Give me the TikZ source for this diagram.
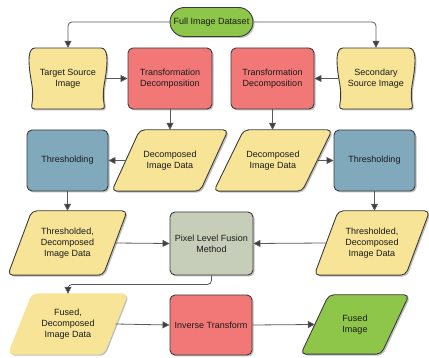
\documentclass[tikz,border=0pt]{standalone}
\usepackage{fontspec}
\setmainfont{Liberation Sans}
\usetikzlibrary{arrows.meta,shadows,backgrounds}
\definecolor{cyel}{HTML}{F7E496}
\definecolor{cred}{HTML}{F27878}
\definecolor{cblue}{HTML}{80A9BB}
\definecolor{cgray}{HTML}{C6CEB9}
\definecolor{cgreen}{HTML}{8DC648}
\definecolor{cedge}{HTML}{3C3C3C}
\definecolor{cline}{HTML}{5A5A5A}
\definecolor{ctext}{HTML}{1A1A1A}
\begin{document}
\begin{tikzpicture}[x=1pt,y=-1pt,
  lbl/.style={align=center,font=\fontsize{9}{11}\selectfont,text=ctext},
  shad/.style={drop shadow={shadow xshift=1.5pt,shadow yshift=-1.5pt,opacity=0.25,fill=black}},
  box/.style={lbl,draw=cedge,line width=0.9pt,rounded corners=5pt,inner sep=2pt,shad},
  ghost/.style={lbl,inner sep=0pt},
  shp/.style={draw=cedge,line width=0.9pt,rounded corners=5pt,shad},
  arr/.style={draw=cline,line width=0.8pt,rounded corners=4pt,-{Triangle[length=7pt,width=7pt,fill=cedge]}}
]
\useasboundingbox (0,0) rectangle (429,358);
% nodes
\node[box,fill=cgreen,rounded corners=14.5pt,minimum width=83pt,minimum height=29pt] (full) at (211.5,22) {Full Image Dataset};
\node[ghost,minimum width=74pt,minimum height=61pt] (tsrc) at (68,78.5) {Target Source\\Image};
\node[box,fill=cred,minimum width=84pt,minimum height=61pt] (tr1) at (170,78.5) {Transformation\\Decomposition};
\node[box,fill=cred,minimum width=83pt,minimum height=61pt] (tr2) at (272.5,78.5) {Transformation\\Decomposition};
\node[ghost,minimum width=74pt,minimum height=61pt] (ssrc) at (376,78.5) {Secondary\\Source Image};
\node[box,fill=cblue,minimum width=81pt,minimum height=61pt] (th1) at (67.5,160.5) {Thresholding};
\node[ghost,minimum width=88pt,minimum height=61pt] (dec1) at (170,160.5) {Decomposed\\Image Data};
\node[ghost,minimum width=88pt,minimum height=61pt] (dec2) at (273,160.5) {Decomposed\\Image Data};
\node[box,fill=cblue,minimum width=81pt,minimum height=61pt] (th2) at (374.5,160.5) {Thresholding};
\node[ghost,minimum width=95pt,minimum height=64pt] (thd1) at (67.5,243) {Thresholded,\\Decomposed\\Image Data};
\node[box,fill=cgray,minimum width=83pt,minimum height=63pt] (pix) at (211.5,243.5) {Pixel Level Fusion\\Method};
\node[ghost,minimum width=91pt,minimum height=64pt] (thd2) at (372,243) {Thresholded,\\Decomposed\\Image Data};
\node[ghost,minimum width=95pt,minimum height=60pt] (fus) at (68,324) {Fused,\\Decomposed\\Image Data};
\node[box,fill=cred,minimum width=82pt,minimum height=60pt] (inv) at (211,325) {Inverse Transform};
\node[ghost,minimum width=80pt,minimum height=59pt] (fimg) at (355,324.5) {Fused\\Image};
% custom shapes behind the texts
\begin{pgfonlayer}{background}
\foreach \n in {tsrc,ssrc}{
  \begin{scope}[shift={(\n.center)}]
  \filldraw[draw=cedge,line width=0.9pt,line join=round,shad,fill=cyel]
    (-33,-30.5) -- (33,-30.5)
    .. controls (36.5,-30.5) and (38.3,-27) .. (38.8,-22)
    .. controls (39.5,-15) and (38,-4) .. (36.5,4)
    .. controls (35,12) and (35,20) .. (36,25)
    .. controls (36.7,28.5) and (36.5,30.5) .. (33,30.5)
    -- (-33,30.5)
    .. controls (-36.5,30.5) and (-36.7,28.5) .. (-36,25)
    .. controls (-35,20) and (-35,12) .. (-36.5,4)
    .. controls (-38,-4) and (-39.5,-15) .. (-38.8,-22)
    .. controls (-38.3,-27) and (-36.5,-30.5) .. (-33,-30.5)
    -- cycle;
  \end{scope}
}
\foreach \n/\s/\c/\d in {dec1/14/cyel/cedge,dec2/15/cyel/cedge,thd1/12/cyel/cedge,thd2/12/cyel/cedge,fus/12/cyel/cyel,fimg/14/cgreen/cedge}{
  \filldraw[shp,fill=\c,draw=\d] ([xshift=\s pt]\n.north west) -- ([xshift=\s pt]\n.north east)
    -- ([xshift=-\s pt]\n.south east) -- ([xshift=-\s pt]\n.south west) -- cycle;
}
\end{pgfonlayer}
% connectors
\draw[arr] (full.west) -| (tsrc.north);
\draw[arr] (full.east) -| (ssrc.north);
\draw[arr] (tsrc.east) -- (tr1.west);
\draw[arr] (ssrc.west) -- (tr2.east);
\draw[arr] (tr1.south) -- (tr1.south |- dec1.north);
\draw[arr] (tr2.south) -- (tr2.south |- dec2.north);
\draw[arr] (dec1.west) -- (th1.east);
\draw[arr] (dec2.east) -- (th2.west);
\draw[arr] (th1.south) -- (th1.south |- thd1.north);
\draw[arr] (th2.south) -- (th2.south |- thd2.north);
\draw[arr] (thd1.east) -- (pix.west);
\draw[arr] (thd2.west) -- (pix.east);
\draw[arr] (pix.south) -- ++(0,9) -| (fus.north);
\draw[arr] (fus.east) -- (inv.west);
\draw[arr] (inv.east) -- (fimg.west);
\end{tikzpicture}
\end{document}
